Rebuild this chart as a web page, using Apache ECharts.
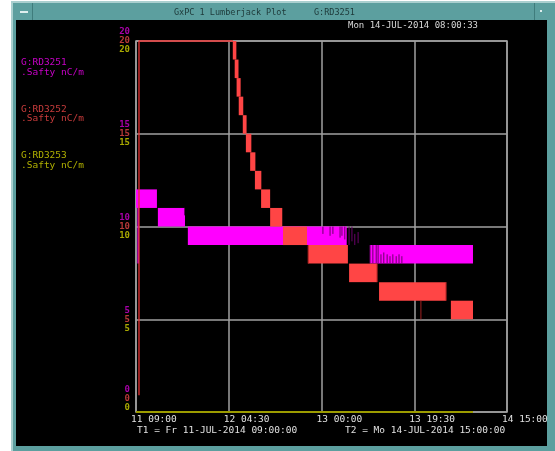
<!DOCTYPE html>
<html>
<head>
<meta charset="utf-8">
<script src="https://cdn.jsdelivr.net/npm/echarts@6/dist/echarts.min.js"></script>
<style>
  html, body { margin: 0; padding: 0; background: #ffffff; }
  #chart { width: 555px; height: 451px; }
</style>
</head>
<body>
<div id="chart"></div>
<script>
// Time axis in hours after T1 (11-JUL-2014 09:00), 78 h span, 19.5 h ticks
const xTickLabels = ['11 09:00', '12 04:30', '13 00:00', '13 19:30', '14 15:00'];
const yTickValues = [0, 5, 10, 15, 20];

// Band data: [startHour, endHour, low, high] — readings toggling between two levels
const rd3251Bands = [
  [0.0, 4.4, 11, 12],
  [4.6, 10.3, 10, 11],
  [10.9, 44.3, 9, 10],
  [49.2, 70.85, 8, 9]
];
const rd3252Bands = [
  [20.35, 21.1, 19, 20],
  [20.75, 21.55, 18, 19],
  [21.15, 22.0, 17, 18],
  [21.6, 22.55, 16, 17],
  [22.45, 23.25, 15, 16],
  [23.1, 24.25, 14, 15],
  [24.0, 25.1, 13, 14],
  [25.0, 26.35, 12, 13],
  [26.3, 28.2, 11, 12],
  [28.2, 30.75, 10, 11],
  [30.9, 35.95, 9, 10],
  [36.15, 44.55, 8, 9],
  [44.8, 50.7, 7, 8],
  [51.1, 65.2, 6, 7],
  [66.2, 70.85, 5, 6]
];
// Isolated glitches: [hour, low, high]
const rd3251Spikes = [
  [10.2, 10.6, 11.0],
  [39.3, 9.6, 10.0], [40.8, 9.5, 10.0], [41.4, 9.6, 10.0], [42.9, 9.4, 10.0],
  [43.3, 9.5, 10.0], [43.9, 9.3, 10.0], [44.8, 9.0, 10.0], [45.4, 9.2, 10.0],
  [46.0, 9.0, 9.6], [46.7, 9.1, 9.7],
  [49.2, 8.0, 9.0], [49.8, 8.0, 9.0], [50.5, 8.0, 9.0], [50.9, 8.0, 9.0],
  [51.5, 8.0, 8.5], [52.1, 8.0, 8.6], [52.8, 8.0, 8.5], [53.4, 8.0, 8.4],
  [54.0, 8.0, 8.5], [54.7, 8.0, 8.4], [55.3, 8.0, 8.5], [55.9, 8.0, 8.4]
];
// Start-up dip of RD3251
const rd3251Line = [[0.45, 11.0], [0.45, 8.0]];
const rd3252Spikes = [
  [36.2, 8.0, 9.0], [50.7, 7.0, 8.0], [65.2, 6.0, 7.0], [59.9, 5.0, 6.0]
];
// Initial jump of RD3252 and its flat run along the top of the scale
const rd3252Line = [[0.63, 0.9], [0.63, 20], [20.4, 20]];
// RD3253 sits at zero for the whole logged range
const rd3253Line = [[0, 0], [70.85, 0]];

const MAG = '#ff00ff', RED = '#ff4545', YEL = '#9c9c00', GRID = '#a0a0a0';
const MONO = 'DejaVu Sans Mono';

function bandRenderer(color) {
  return function (params, api) {
    const p0 = api.coord([api.value(0), api.value(3)]);
    const p1 = api.coord([api.value(1), api.value(2)]);
    return { type: 'rect', shape: { x: p0[0], y: p0[1], width: p1[0] - p0[0], height: p1[1] - p0[1] },
             style: { fill: color } };
  };
}
function spikeRenderer(color, w) {
  return function (params, api) {
    const a = api.coord([api.value(0), api.value(1)]);
    const b = api.coord([api.value(0), api.value(2)]);
    return { type: 'line', shape: { x1: a[0], y1: a[1], x2: b[0], y2: b[1] },
             style: { stroke: color, lineWidth: w } };
  };
}

const chart = echarts.init(document.getElementById('chart'), null, { renderer: 'canvas' });

const option = {
  animation: false,
  backgroundColor: '#ffffff',
  graphic: [
    // window frame and title bar
    { type: 'rect', z: -10, shape: { x: 11, y: 1, width: 544, height: 450 }, style: { fill: '#5c9f9f' } },
    { type: 'rect', z: -10, shape: { x: 11, y: 1, width: 544, height: 2 }, style: { fill: '#a9cfcf' } },
    { type: 'rect', z: -10, shape: { x: 11, y: 1, width: 2, height: 450 }, style: { fill: '#a9cfcf' } },
    { type: 'rect', z: -10, shape: { x: 32, y: 3, width: 1, height: 17 }, style: { fill: '#3f7c7c' } },
    { type: 'rect', z: -10, shape: { x: 534, y: 3, width: 1, height: 17 }, style: { fill: '#3f7c7c' } },
    { type: 'rect', z: -10, shape: { x: 20, y: 11, width: 8, height: 2 }, style: { fill: '#dfeeee' } },
    { type: 'rect', z: -10, shape: { x: 540, y: 10, width: 2, height: 2 }, style: { fill: '#dfeeee' } },
    { type: 'rect', z: -9, shape: { x: 16, y: 20, width: 531, height: 426 }, style: { fill: '#000000' } },
    { type: 'text', z: 5, style: { x: 174, y: 13, text: 'GxPC 1 Lumberjack Plot', fill: '#1d3838',
      font: '8.5px ' + MONO, verticalAlign: 'middle' } },
    { type: 'text', z: 5, style: { x: 314, y: 13, text: 'G:RD3251', fill: '#1d3838',
      font: '8.5px ' + MONO, verticalAlign: 'middle' } },
    { type: 'text', z: 5, style: { x: 348, y: 26, text: 'Mon 14-JUL-2014 08:00:33', fill: '#d8d8d8',
      font: '9px ' + MONO, verticalAlign: 'middle' } },
    // channel legend
    { type: 'text', z: 5, style: { x: 21, y: 63, text: 'G:RD3251', fill: '#c800c8', font: '9.5px ' + MONO, verticalAlign: 'middle' } },
    { type: 'text', z: 5, style: { x: 21, y: 73, text: '.Safty nC/m', fill: '#c800c8', font: '9.5px ' + MONO, verticalAlign: 'middle' } },
    { type: 'text', z: 5, style: { x: 21, y: 110, text: 'G:RD3252', fill: '#c83c3c', font: '9.5px ' + MONO, verticalAlign: 'middle' } },
    { type: 'text', z: 5, style: { x: 21, y: 119, text: '.Safty nC/m', fill: '#c83c3c', font: '9.5px ' + MONO, verticalAlign: 'middle' } },
    { type: 'text', z: 5, style: { x: 21, y: 156, text: 'G:RD3253', fill: '#b0b000', font: '9.5px ' + MONO, verticalAlign: 'middle' } },
    { type: 'text', z: 5, style: { x: 21, y: 166, text: '.Safty nC/m', fill: '#b0b000', font: '9.5px ' + MONO, verticalAlign: 'middle' } },
    // time range footer
    { type: 'text', z: 5, style: { x: 137, y: 431, text: 'T1 = Fr 11-JUL-2014 09:00:00', fill: '#e0e0e0', font: '9.5px ' + MONO, verticalAlign: 'middle' } },
    { type: 'text', z: 5, style: { x: 345, y: 431, text: 'T2 = Mo 14-JUL-2014 15:00:00', fill: '#e0e0e0', font: '9.5px ' + MONO, verticalAlign: 'middle' } }
  ],
  grid: { left: 136, top: 41, width: 371, height: 371, show: true, borderColor: GRID, borderWidth: 1.5,
          backgroundColor: 'transparent' },
  xAxis: {
    type: 'value', min: 0, max: 78, interval: 19.5,
    axisLine: { show: false }, axisTick: { show: false },
    splitLine: { show: true, lineStyle: { color: GRID, width: 1.5 } },
    axisLabel: {
      margin: 3, align: 'left', padding: [0, 0, 0, -5],
      color: '#e0e0e0', fontFamily: MONO, fontSize: 9.5,
      formatter: v => xTickLabels[Math.round(v / 19.5)]
    }
  },
  yAxis: {
    type: 'value', min: 0, max: 20, interval: 5,
    axisLine: { show: false }, axisTick: { show: false },
    splitLine: { show: true, lineStyle: { color: GRID, width: 1.5 } },
    axisLabel: {
      margin: 6, fontFamily: MONO, fontSize: 9, fontWeight: 'bold',
      formatter: function (v) {
        let s = '{m|' + v + '}\n{r|' + v + '}\n{y|' + v + '}';
        if (v === yTickValues[0]) s += '\n{b| }\n{b| }\n{b| }';
        return s;
      },
      rich: {
        m: { color: '#a800a8', lineHeight: 9, fontFamily: MONO, fontSize: 9, fontWeight: 'bold' },
        r: { color: '#b83838', lineHeight: 9, fontFamily: MONO, fontSize: 9, fontWeight: 'bold' },
        y: { color: '#a8a800', lineHeight: 9, fontFamily: MONO, fontSize: 9, fontWeight: 'bold' },
        b: { lineHeight: 9, fontSize: 9 }
      }
    }
  },
  series: [
    { type: 'line', data: rd3253Line, symbol: 'none', clip: false, z: 3,
      lineStyle: { color: YEL, width: 2 } },
    { type: 'custom', data: rd3251Bands, renderItem: bandRenderer(MAG), z: 4 },
    { type: 'line', data: rd3251Line, symbol: 'none', clip: false, z: 4,
      lineStyle: { color: '#e000e0', width: 1.5 } },
    { type: 'custom', data: rd3251Spikes, renderItem: spikeRenderer('#6a006a', 1), z: 5 },
    { type: 'custom', data: rd3252Bands, renderItem: bandRenderer(RED), z: 6 },
    { type: 'custom', data: rd3252Spikes, renderItem: spikeRenderer('#a02020', 1), z: 7 },
    { type: 'line', data: rd3252Line, symbol: 'none', clip: false, z: 6,
      lineStyle: { color: '#e83434', width: 1.3 } }
  ]
};
chart.setOption(option);
</script>
</body>
</html>
